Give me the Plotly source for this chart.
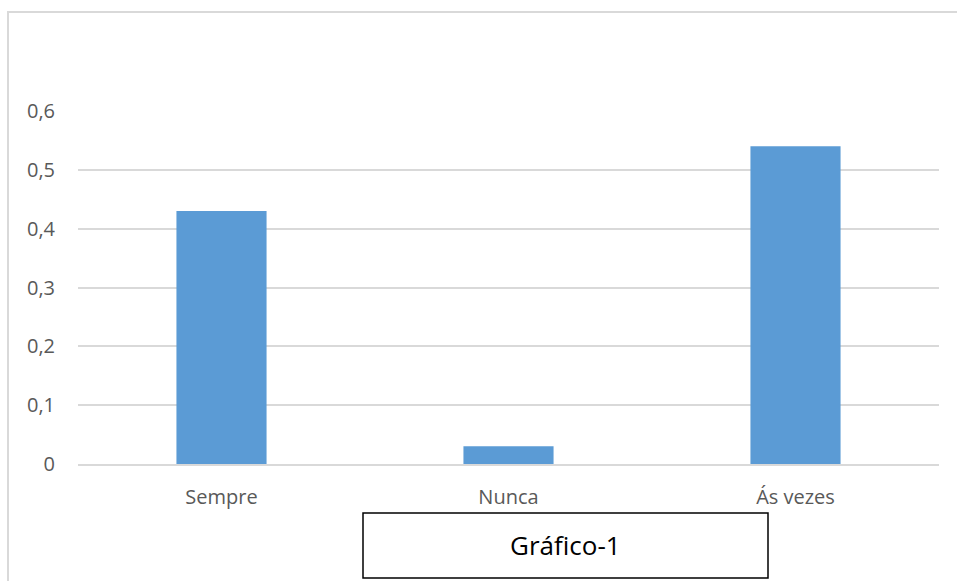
import plotly.graph_objects as go

categories = ["Sempre", "Nunca", "Ás vezes"]
values = [0.43, 0.03, 0.54]
y_ticks = [0, 0.1, 0.2, 0.3, 0.4, 0.5, 0.6]
y_tick_labels = ["0", "0,1", "0,2", "0,3", "0,4", "0,5", "0,6"]
caption = "Gráfico-1"

W, H = 957, 581
L, R, T, B = 78, 18, 111, 117
pw, ph = W - L - R, H - T - B

def px_x(x):
    return (x - L) / pw

def px_y(y):
    return (H - B - y) / ph

fig = go.Figure()
fig.add_trace(go.Bar(x=categories, y=values, marker=dict(color="#5B9BD5", line=dict(width=0)),
                     hoverinfo="x+y"))

fig.update_layout(
    width=W, height=H,
    margin=dict(l=L, r=R, t=T, b=B, pad=0),
    paper_bgcolor="white", plot_bgcolor="white",
    bargap=0.686,
    showlegend=False,
    font=dict(family="Open Sans", color="#595959"),
    xaxis=dict(
        showgrid=False, showline=True, linecolor="#D9D9D9", linewidth=1.5,
        tickfont=dict(size=20, color="#595959"), ticks="", ticklabelstandoff=14,
    ),
    yaxis=dict(
        range=[0, 0.6], tickvals=y_ticks, ticktext=y_tick_labels,
        showgrid=True, gridcolor="#D9D9D9", gridwidth=1.5,
        zeroline=False, showline=False,
        tickfont=dict(size=20, color="#595959"), ticks="", ticklabelstandoff=22,
    ),
    shapes=[
        dict(type="rect", xref="paper", yref="paper",
             x0=px_x(8), x1=px_x(962), y0=px_y(12), y1=px_y(590),
             line=dict(color="#D9D9D9", width=2), fillcolor="rgba(0,0,0,0)", layer="below"),
        dict(type="rect", xref="paper", yref="paper",
             x0=px_x(363), x1=px_x(768), y0=px_y(513), y1=px_y(578),
             line=dict(color="black", width=1.5), fillcolor="white"),
    ],
    annotations=[
        dict(text=caption, xref="paper", yref="paper", x=px_x(565.5), y=px_y(545),
             xanchor="center", yanchor="middle", showarrow=False,
             font=dict(family="Open Sans", size=26, color="black")),
    ],
)

fig.write_html("out.html")
